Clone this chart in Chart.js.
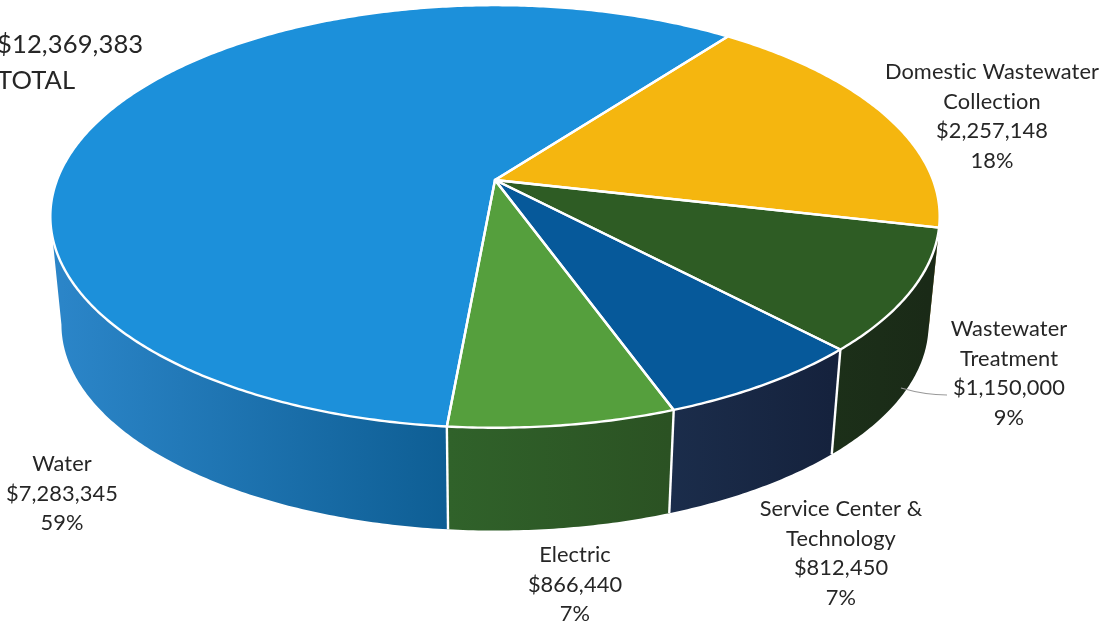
<!DOCTYPE html>
<html>
<head>
<meta charset="utf-8">
<title>Budget by department</title>
<script src="https://cdn.jsdelivr.net/npm/chart.js@4/dist/chart.umd.js"></script>
<style>
    html, body { margin: 0; padding: 0; background: #fff; overflow: hidden; }
    canvas { display: block; }
</style>
</head>
<body>
<canvas id="pie" width="1111" height="635"></canvas>
<script>
// values, clockwise from the yellow slice
const categories = ['Domestic Wastewater Collection', 'Wastewater Treatment', 'Service Center & Technology', 'Electric', 'Water'];
const amounts = [2257148, 1150000, 812450, 866440, 7283345];
const amountLabels = ['$2,257,148', '$1,150,000', '$812,450', '$866,440', '$7,283,345'];
const percentLabels = ['18%', '9%', '7%', '7%', '59%'];
const nameLines = [['Domestic Wastewater', 'Collection'], ['Wastewater', 'Treatment'], ['Service Center &', 'Technology'], ['Electric'], ['Water']];
const totalLines = ['$12,369,383', 'TOTAL'];

const topColors = ['#f5b60f', '#2e5c24', '#06599a', '#559f3d', '#1c90da'];
const sideColors = [
    ['#7a5a08', '#7a5a08'],
    ['#1c3019', '#1a2a17'],
    ['#1b2d4b', '#15223d'],
    ['#30622a', '#2b5223'],
    ['#2b85c8', '#0e5e94']
];
const labelCenters = [[992, 72], [1009, 329], [841, 509], [575, 555], [62, 464]];

// perspective of the disc: a circle seen from above, near side bigger
const view = {cx: 495, apexY: 180, a: 438, b: 205, p: -0.1725, wallScale: 0.975, wallY: 289};
// the wall is only visible between these angles, beyond them the rim turns away
const wallFrom = 10 * Math.PI / 180;
const wallTo = 170 * Math.PI / 180;

const project = (angle, onBottom) => {
    const u = Math.cos(angle);
    const v = Math.sin(angle);
    const w = 1 + view.p * v;
    const x = view.a * u / w;
    const y = view.b * v / w;
    if (onBottom) {
        return [view.cx + view.wallScale * x, view.wallY + view.wallScale * y];
    }
    return [view.cx + x, view.apexY + y];
};

const traceRim = (ctx, from, to, onBottom) => {
    const steps = Math.max(2, Math.ceil(Math.abs(to - from) / 0.01));
    for (let i = 0; i <= steps; i++) {
        const [x, y] = project(from + (to - from) * i / steps, onBottom);
        ctx.lineTo(x, y);
    }
};

const perspectivePie = {
    id: 'perspectivePie',
    beforeDatasetDraw(chart, args) {
        const ctx = chart.ctx;
        const arcs = chart.getDatasetMeta(args.index).data;
        const middle = arc => (arc.startAngle + arc.endAngle) / 2;
        const order = arcs.map((arc, i) => i).sort((i, j) => Math.abs(middle(arcs[j]) - Math.PI / 2) - Math.abs(middle(arcs[i]) - Math.PI / 2));

        ctx.save();
        ctx.lineJoin = 'round';

        // side wall, only the part facing us
        order.forEach(i => {
            const from = Math.max(arcs[i].startAngle, wallFrom);
            const to = Math.min(arcs[i].endAngle, wallTo);
            if (to <= from) {
                return;
            }
            const left = project(to, true)[0];
            const right = project(from, true)[0];
            const gradient = ctx.createLinearGradient(left, 0, right, 0);
            gradient.addColorStop(0, sideColors[i][0]);
            gradient.addColorStop(1, sideColors[i][1]);
            ctx.beginPath();
            traceRim(ctx, from, to, false);
            traceRim(ctx, to, from, true);
            ctx.closePath();
            ctx.fillStyle = gradient;
            ctx.fill();
        });

        // white seams on the wall
        ctx.strokeStyle = '#fff';
        ctx.lineWidth = 2.4;
        arcs.forEach(arc => {
            const angle = arc.endAngle;
            if (angle > 0.5 && angle < 2.5) {
                ctx.beginPath();
                ctx.moveTo(...project(angle, false));
                ctx.lineTo(...project(angle, true));
                ctx.stroke();
            }
        });

        // top face
        arcs.forEach(arc => {
            ctx.beginPath();
            ctx.moveTo(view.cx, view.apexY);
            traceRim(ctx, arc.startAngle, arc.endAngle, false);
            ctx.closePath();
            ctx.fillStyle = arc.options.backgroundColor;
            ctx.fill();
        });
        arcs.forEach(arc => {
            ctx.beginPath();
            ctx.moveTo(view.cx, view.apexY);
            traceRim(ctx, arc.startAngle, arc.endAngle, false);
            ctx.closePath();
            ctx.strokeStyle = arc.options.borderColor;
            ctx.lineWidth = arc.options.borderWidth;
            ctx.stroke();
        });
        ctx.restore();
        return false;
    }
};

const sliceLabels = {
    id: 'sliceLabels',
    afterDraw(chart) {
        const ctx = chart.ctx;
        ctx.save();

        // leader of the Wastewater Treatment label
        ctx.strokeStyle = '#9a9a9a';
        ctx.lineWidth = 1.2;
        ctx.beginPath();
        ctx.moveTo(901, 388);
        ctx.quadraticCurveTo(925, 395, 947, 395);
        ctx.stroke();

        ctx.fillStyle = '#262626';
        ctx.textAlign = 'center';
        ctx.textBaseline = 'middle';
        ctx.letterSpacing = '0.1px';
        ctx.font = '21.8px Lato';
        categories.forEach((name, i) => {
            const lines = [...nameLines[i], amountLabels[i], percentLabels[i]];
            lines.forEach((line, n) => {
                ctx.fillText(line, labelCenters[i][0], labelCenters[i][1] + n * 29.7);
            });
        });

        ctx.textAlign = 'left';
        ctx.font = '25.6px Lato';
        ctx.fillText(totalLines[0], -3, 45);
        ctx.fillText(totalLines[1], -3, 81);
        ctx.restore();
    }
};

new Chart(document.getElementById('pie'), {
    type: 'pie',
    data: {
        labels: categories,
        datasets: [{
            data: amounts,
            backgroundColor: topColors,
            borderColor: '#ffffff',
            borderWidth: 2.4
        }]
    },
    options: {
        responsive: false,
        animation: false,
        devicePixelRatio: 1,
        rotation: 37.2,
        plugins: {
            legend: {display: false},
            tooltip: {enabled: false}
        }
    },
    plugins: [perspectivePie, sliceLabels]
});
</script>
</body>
</html>
